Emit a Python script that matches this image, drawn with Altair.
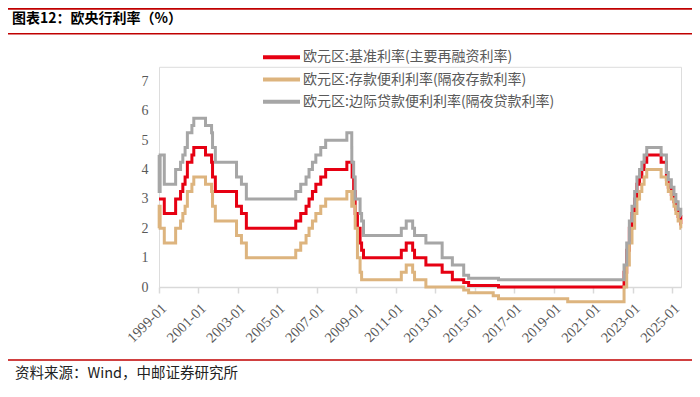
import altair as alt
import pandas as pd

# ---------------- data ----------------
dates = [
    "1999-01-01", "1999-01-04", "1999-01-22", "1999-04-09", "1999-11-05",
    "2000-02-04", "2000-03-17", "2000-04-28", "2000-06-09", "2000-09-01", "2000-10-06",
    "2001-05-11", "2001-08-31", "2001-09-18", "2001-11-09",
    "2002-12-06", "2003-03-07", "2003-06-06",
    "2005-12-06", "2006-03-08", "2006-06-15", "2006-08-09", "2006-10-11", "2006-12-13",
    "2007-03-14", "2007-06-13", "2008-07-09", "2008-10-08", "2008-10-09", "2008-10-15",
    "2008-11-12", "2008-12-10", "2009-01-21", "2009-03-11", "2009-04-08", "2009-05-13",
    "2011-04-13", "2011-07-13", "2011-11-09", "2011-12-14", "2012-07-11", "2013-05-08",
    "2013-11-13", "2014-06-11", "2014-09-10", "2015-12-09", "2016-03-16", "2019-09-18",
    "2022-07-27", "2022-09-14", "2022-11-02", "2022-12-21", "2023-02-08", "2023-03-22",
    "2023-05-10", "2023-06-21", "2023-08-02", "2023-09-20", "2024-06-12", "2024-09-18",
    "2024-10-23", "2024-12-18", "2025-02-05", "2025-03-12", "2025-04-23", "2025-06-11", "2025-06-15",
]
mro = [
    3.00, 3.00, 3.00, 2.50, 3.00,
    3.25, 3.50, 3.75, 4.25, 4.50, 4.75,
    4.50, 4.25, 3.75, 3.25,
    2.75, 2.50, 2.00,
    2.25, 2.50, 2.75, 3.00, 3.25, 3.50,
    3.75, 4.00, 4.25, 4.25, 4.25, 3.75,
    3.25, 2.50, 2.00, 1.50, 1.25, 1.00,
    1.25, 1.50, 1.25, 1.00, 0.75, 0.50,
    0.25, 0.15, 0.05, 0.05, 0.00, 0.00,
    0.50, 1.25, 2.00, 2.50, 3.00, 3.50,
    3.75, 4.00, 4.25, 4.50, 4.25, 3.65,
    3.40, 3.15, 2.90, 2.65, 2.40, 2.15, 2.15,
]
deposit = [
    2.00, 2.75, 2.00, 1.50, 2.00,
    2.25, 2.50, 2.75, 3.25, 3.50, 3.75,
    3.50, 3.25, 2.75, 2.25,
    1.75, 1.50, 1.00,
    1.25, 1.50, 1.75, 2.00, 2.25, 2.50,
    2.75, 3.00, 3.25, 2.75, 3.25, 3.25,
    2.75, 2.00, 1.00, 0.50, 0.25, 0.25,
    0.50, 0.75, 0.50, 0.25, 0.00, 0.00,
    0.00, -0.10, -0.20, -0.30, -0.40, -0.50,
    0.00, 0.75, 1.50, 2.00, 2.50, 3.00,
    3.25, 3.50, 3.75, 4.00, 3.75, 3.50,
    3.25, 3.00, 2.75, 2.50, 2.25, 2.00, 2.00,
]
lending = [
    4.50, 3.25, 4.50, 3.50, 4.00,
    4.25, 4.50, 4.75, 5.25, 5.50, 5.75,
    5.50, 5.25, 4.75, 4.25,
    3.75, 3.50, 3.00,
    3.25, 3.50, 3.75, 4.00, 4.25, 4.50,
    4.75, 5.00, 5.25, 4.75, 4.25, 4.25,
    3.75, 3.00, 3.00, 2.50, 2.25, 1.75,
    2.00, 2.25, 2.00, 1.75, 1.50, 1.00,
    0.75, 0.40, 0.30, 0.30, 0.25, 0.25,
    0.75, 1.50, 2.25, 2.75, 3.25, 3.75,
    4.00, 4.25, 4.50, 4.75, 4.50, 3.90,
    3.65, 3.40, 3.15, 2.90, 2.65, 2.40, 2.40,
]

series_names = [
    "欧元区:基准利率(主要再融资利率)",
    "欧元区:存款便利利率(隔夜存款利率)",
    "欧元区:边际贷款便利利率(隔夜贷款利率)",
]
series_colors = ["#E60012", "#DDB47E", "#A6A6A6"]
y_ticks = [0, 1, 2, 3, 4, 5, 6, 7]
x_tick_years = list(range(1999, 2026, 2))
title_text = "图表12：欧央行利率（%）"
source_text = "资料来源：Wind，中邮证券研究所"

# ---------------- layout ----------------
PX_UNIT = 29.36
W = 522
Y_MAX = 7.5
H = Y_MAX * PX_UNIT
PAD_L, PAD_T = 151, 58.8
PAD_R = 684 - PAD_L - W
PAD_B = 381 - PAD_T - H

GRAY_TXT = "#595959"

x_scale = alt.Scale(domain=[alt.DateTime(year=1999, month=1, date=1),
                            alt.DateTime(year=2025, month=6, date=15)])
y_scale = alt.Scale(domain=[0, Y_MAX], nice=False, zero=False)

x_axis = alt.Axis(
    values=[alt.DateTime(year=y, month=1, date=1) for y in x_tick_years],
    format="%Y-%m", labelAngle=315, labelAlign="right", labelBaseline="top",
    labelFont="Liberation Serif", labelFontSize=14.5, labelColor=GRAY_TXT,
    labelPadding=8, labelOverlap=False, labelFlush=False,
    domainColor="#D9D9D9", domainWidth=1.5, tickColor="#D9D9D9", tickWidth=1.5,
    tickSize=6, grid=False, title=None,
)
y_axis = alt.Axis(
    values=y_ticks, domain=False, ticks=False, grid=False, title=None,
    labelFont="Liberation Serif", labelFontSize=14, labelColor=GRAY_TXT,
    labelPadding=11,
)

series_values = [mro, deposit, lending]
layers = []
for i, (name, vals, col) in enumerate(zip(series_names, series_values, series_colors)):
    d = pd.DataFrame({"date": pd.to_datetime(dates), "rate": vals, "series": name})
    layers.append(
        alt.Chart(d).mark_line(interpolate="step-after", strokeWidth=3, color=col).encode(
            x=alt.X("date:T", scale=x_scale, axis=x_axis),
            y=alt.Y("rate:Q", scale=y_scale, axis=y_axis),
        )
    )

one = pd.DataFrame({"a": [0]})

# custom legend
legend_y = [-9.5, 12.7, 34.9]
for name, col, ly in zip(series_names, series_colors, legend_y):
    layers.append(
        alt.Chart(one).mark_rule(strokeWidth=4, color=col).encode(
            x=alt.value(104), x2=alt.value(141), y=alt.value(ly)
        )
    )
    layers.append(
        alt.Chart(pd.DataFrame({"t": [name]})).mark_text(
            align="left", baseline="middle", font="Noto Sans CJK SC",
            fontSize=14, color=GRAY_TXT,
        ).encode(text="t:N", x=alt.value(144), y=alt.value(ly))
    )

# header / footer decorations
for yy, w in [(-58.0, 2), (-33.0, 1.5), (293.2, 1.5)]:
    layers.append(
        alt.Chart(one).mark_rule(strokeWidth=w, color="#C00000").encode(
            x=alt.value(-151), x2=alt.value(W + PAD_R), y=alt.value(yy)
        )
    )

layers.append(
    alt.Chart(pd.DataFrame({"t": [title_text]})).mark_text(
        align="left", baseline="middle", font="Noto Sans CJK SC",
        fontSize=14, fontWeight="bold", color="#000000",
    ).encode(text="t:N", x=alt.value(-147), y=alt.value(-48))
)
layers.append(
    alt.Chart(pd.DataFrame({"t": [source_text]})).mark_text(
        align="left", baseline="middle", font="Noto Sans CJK SC",
        fontSize=14.5, color="#222222",
    ).encode(text="t:N", x=alt.value(-144), y=alt.value(307.5))
)

chart = alt.layer(*layers).properties(
    width=W, height=H,
    autosize=alt.AutoSizeParams(type="none"),
    padding={"left": PAD_L, "top": PAD_T, "right": PAD_R, "bottom": PAD_B},
).configure_view(stroke=None).configure(background="#FFFFFF")

chart.save("out.html", embed_options={"renderer": "svg", "actions": False})
